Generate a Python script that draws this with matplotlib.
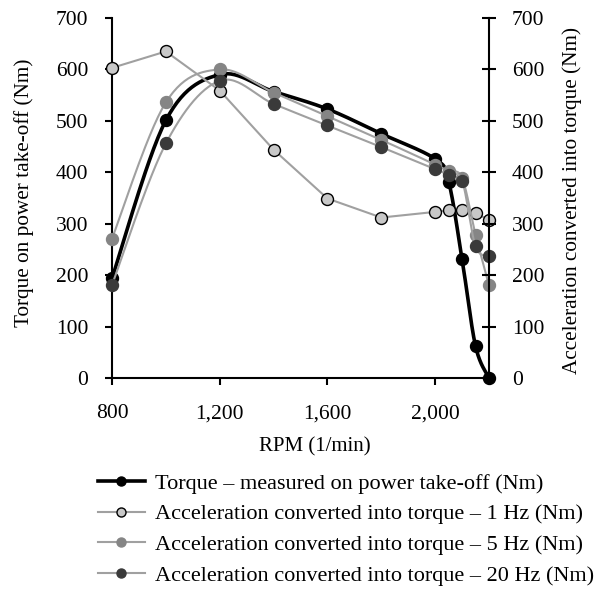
import numpy as np
import matplotlib
matplotlib.use('Agg')
import matplotlib.pyplot as plt
from matplotlib.ticker import FuncFormatter

plt.rcParams['font.family'] = ['Liberation Serif', 'DejaVu Serif']
plt.rcParams['font.size'] = 15.5

rpm = [800, 1000, 1200, 1400, 1600, 1800, 2000, 2050, 2100, 2150, 2200]
torque = [194, 501, 590, 557, 523, 475, 426, 382, 231, 62, 0]
acc_1hz = [603, 635, 559, 444, 349, 312, 323, 326, 327, 321, 307]
acc_5hz = [271, 536, 600, 555, 509, 463, 415, 402, 389, 279, 180]
acc_20hz = [181, 456, 578, 533, 491, 449, 406, 395, 384, 256, 238]

labels = ['Torque \u2013 measured on power take-off (Nm)',
          'Acceleration converted into torque \u2013 1 Hz (Nm)',
          'Acceleration converted into torque \u2013 5 Hz (Nm)',
          'Acceleration converted into torque \u2013 20 Hz (Nm)']


# Excel-artige Glaettung (Bezier mit Tangenten aus den Nachbarpunkten)
def smooth(x, y, n=30):
    p = np.column_stack([x, y]).astype(float)
    out = [p[0]]
    for i in range(len(p) - 1):
        p0 = p[i - 1] if i > 0 else p[i]
        p3 = p[i + 2] if i + 2 < len(p) else p[i + 1]
        c1 = p[i] + (p[i + 1] - p0) / 6
        c2 = p[i + 1] - (p3 - p[i]) / 6
        t = np.linspace(0, 1, n)[1:, None]
        seg = ((1 - t) ** 3 * p[i] + 3 * (1 - t) ** 2 * t * c1
               + 3 * (1 - t) * t ** 2 * c2 + t ** 3 * p[i + 1])
        out.extend(seg)
    out = np.array(out)
    return out[:, 0], out[:, 1]


GRAU = '#a0a0a0'
MS = 8.6

fig = plt.figure(figsize=(6.09, 5.90), dpi=100)
ax = fig.add_axes([112 / 609, 1 - 378 / 590, 377 / 609, 360 / 590])

# Drehmoment
sx, sy = smooth(rpm, torque)
ax.plot(sx, sy, color='black', lw=2.6, zorder=2, clip_on=False)
ax.plot(rpm, torque, 'o', color='black', ms=MS, zorder=2.1, clip_on=False)

# 1 Hz (gerade Linien)
ax.plot(rpm, acc_1hz, color=GRAU, lw=1.5, zorder=3, clip_on=False)
ax.plot(rpm, acc_1hz, 'o', mfc='#c8c8c8', mec='black', mew=1.0, ms=MS,
        zorder=3.1, clip_on=False)

# 5 Hz
sx, sy = smooth(rpm, acc_5hz)
ax.plot(sx, sy, color=GRAU, lw=1.5, zorder=4, clip_on=False)
ax.plot(rpm, acc_5hz, 'o', mfc='#858585', mec='#858585', ms=MS,
        zorder=4.1, clip_on=False)

# 20 Hz
sx, sy = smooth(rpm, acc_20hz)
ax.plot(sx, sy, color=GRAU, lw=1.5, zorder=5, clip_on=False)
ax.plot(rpm, acc_20hz, 'o', mfc='#3a3a3a', mec='#3a3a3a', ms=MS,
        zorder=5.1, clip_on=False)

ax.set_xlim(800, 2200)
ax.set_ylim(0, 700)
ax.set_xticks([800, 1200, 1600, 2000])
ax.xaxis.set_major_formatter(FuncFormatter(lambda v, p: f'{int(v):,}'))
ax.set_yticks(range(0, 701, 100))
ax.spines['top'].set_visible(False)
ax.spines['right'].set_visible(False)
for s in ['left', 'bottom']:
    ax.spines[s].set_linewidth(1.5)
ax.tick_params(direction='out', length=5, width=1.5)
ax.tick_params(axis='y', pad=12)
ax.tick_params(axis='x', pad=14)

ax2 = ax.twinx()
ax2.set_ylim(0, 700)
ax2.set_yticks(range(0, 701, 100))
for s in ['top', 'left', 'bottom']:
    ax2.spines[s].set_visible(False)
ax2.spines['right'].set_linewidth(1.5)
ax2.tick_params(direction='inout', length=10, width=1.5, pad=11.5)

# Achsenbeschriftungen
fig.text(24 / 609, 1 - 193 / 590, 'Torque on power take-off (Nm)',
         rotation=90, ha='center', va='center', fontsize=15.3)
fig.text(572 / 609, 1 - 200 / 590, 'Acceleration converted into torque (Nm)',
         rotation=90, ha='center', va='center', fontsize=15.3)
fig.text(315 / 609, 1 - 447 / 590, 'RPM (1/min)', ha='center', va='center',
         fontsize=15)

handles = [
    plt.Line2D([], [], color='black', lw=2.6, marker='o', ms=6.5),
    plt.Line2D([], [], color=GRAU, lw=1.5, marker='o', ms=6.5,
               mfc='#c8c8c8', mec='black'),
    plt.Line2D([], [], color=GRAU, lw=1.5, marker='o', ms=6.5,
               mfc='#858585', mec='#858585'),
    plt.Line2D([], [], color=GRAU, lw=1.5, marker='o', ms=6.5,
               mfc='#3a3a3a', mec='#3a3a3a'),
]
fig.legend(handles, labels, loc='upper left', bbox_to_anchor=(98 / 609, 1 - 473 / 590),
           frameon=False, handlelength=2.1, handletextpad=0.45, fontsize=16,
           labelspacing=0.46, borderaxespad=0, borderpad=0)

fig.savefig('out.png', dpi=100)
